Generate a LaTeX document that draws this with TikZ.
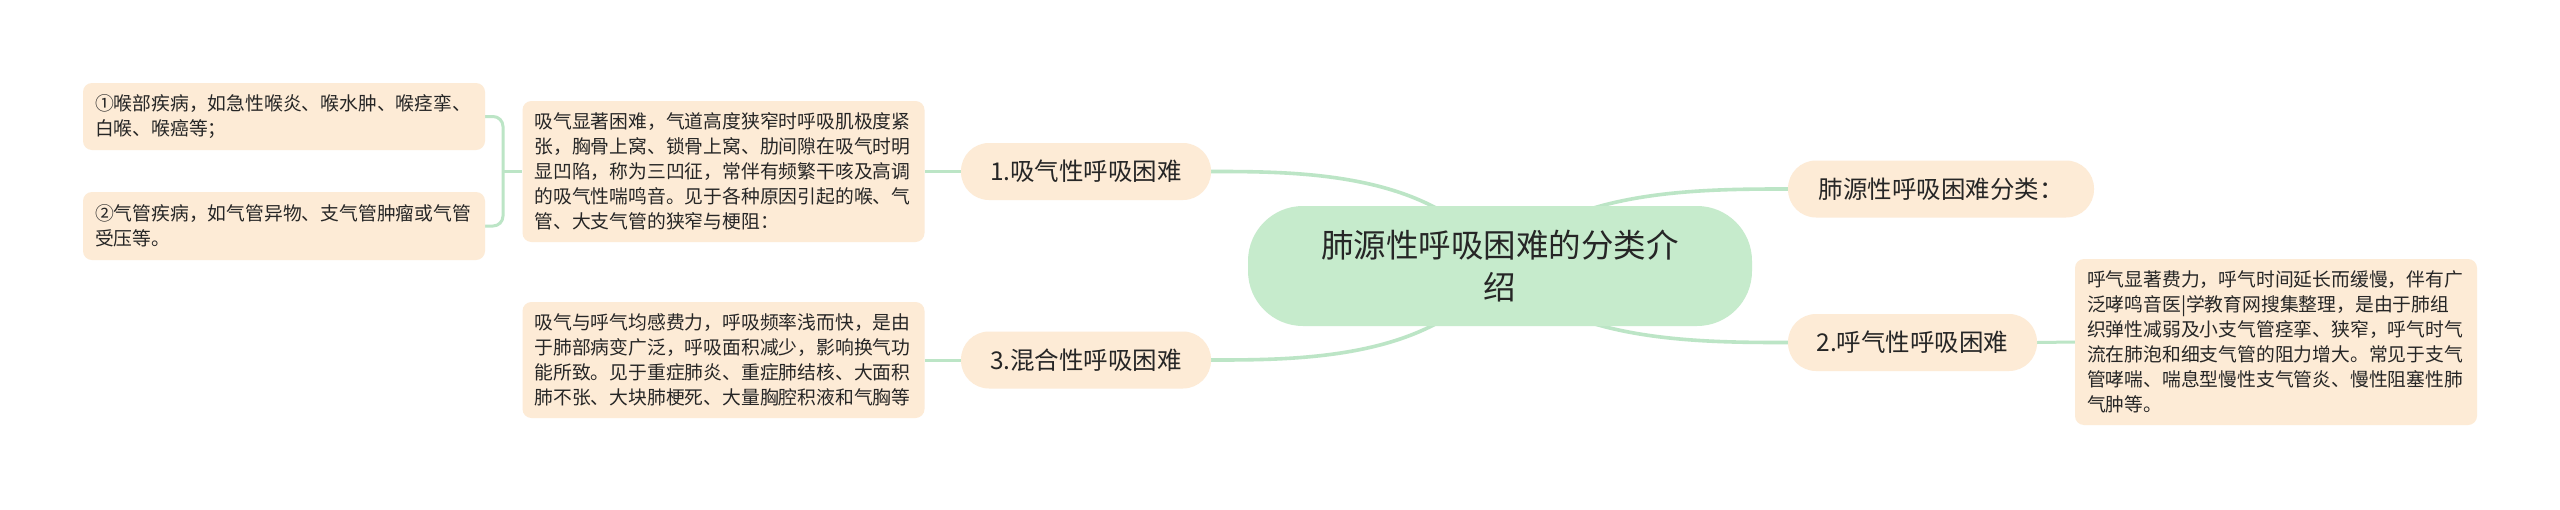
\documentclass[tikz,border=0pt]{standalone}
\usepackage{fontspec}
\setmainfont{Noto Sans CJK SC}
\pgfdeclarelayer{bg}
\pgfsetlayers{bg,main}
\definecolor{peach}{RGB}{253,235,214}
\definecolor{mint}{RGB}{198,235,204}
\definecolor{linegreen}{RGB}{188,229,198}
\definecolor{txt}{RGB}{38,38,38}
\tikzset{
  detail/.style={rectangle, rounded corners=9pt, fill=peach, text=txt,
    font=\fontsize{18.8}{25}\selectfont, align=left, text width=378pt,
    inner xsep=12pt, inner ysep=0pt},
  topic/.style={rectangle, rounded corners=28pt, fill=peach, text=txt,
    font=\fontsize{24.5}{30}\selectfont, minimum height=57pt, inner xsep=0pt, inner ysep=0pt},
  central/.style={rectangle, rounded corners=55pt, fill=mint, text=txt,
    font=\fontsize{32.5}{42}\selectfont, align=center, minimum width=504pt,
    minimum height=120pt, inner sep=0pt},
  link/.style={draw=linegreen, line width=3pt},
  rootlink/.style={draw=linegreen, line width=3.6pt}
}
\begin{document}
\begin{tikzpicture}[x=1pt,y=-1pt]
\begin{pgfonlayer}{bg}
\fill[white] (0,0) rectangle (2560,509);
\end{pgfonlayer}
\useasboundingbox (0,0) rectangle (2560,509);

% central
\node[central] (c) at (1500,266) {肺源性呼吸困难的分类介\\绍};

% topics
\node[topic, minimum width=250pt] (n1) at (1086,171.5) {1.吸气性呼吸困难};
\node[topic, minimum width=250pt] (n3) at (1086,360) {3.混合性呼吸困难};
\node[topic, minimum width=306pt] (n0) at (1941,189) {肺源性呼吸困难分类：};
\node[topic, minimum width=249pt] (n2) at (1912.5,342.5) {2.呼气性呼吸困难};

% details
\node[detail, minimum height=141pt] (d1) at (723.5,171.5) {吸气显著困难，气道高度狭窄时呼吸肌极度紧\\张，胸骨上窝、锁骨上窝、肋间隙在吸气时明\\显凹陷，称为三凹征，常伴有频繁干咳及高调\\的吸气性喘鸣音。见于各种原因引起的喉、气\\管、大支气管的狭窄与梗阻：};
\node[detail, minimum height=116pt] (d3) at (723.5,360) {吸气与呼气均感费力，呼吸频率浅而快，是由\\于肺部病变广泛，呼吸面积减少，影响换气功\\能所致。见于重症肺炎、重症肺结核、大面积\\肺不张、大块肺梗死、大量胸腔积液和气胸等};
\node[detail, minimum height=166pt] (d2) at (2276,342) {呼气显著费力，呼气时间延长而缓慢，伴有广\\泛哮鸣音医|学教育网搜集整理，是由于肺组\\织弹性减弱及小支气管痉挛、狭窄，呼气时气\\流在肺泡和细支气管的阻力增大。常见于支气\\管哮喘、喘息型慢性支气管炎、慢性阻塞性肺\\气肿等。};
\node[detail, minimum height=67pt] (b1) at (284,116.5) {①喉部疾病，如急性喉炎、喉水肿、喉痉挛、\\白喉、喉癌等；};
\node[detail, minimum height=68pt] (b2) at (284,226) {②气管疾病，如气管异物、支气管肿瘤或气管\\受压等。};

\coordinate (j) at (503,171.5);

\begin{pgfonlayer}{bg}
\draw[rootlink] (c.center) .. controls (1440,171.5) and (1300,171.5) .. (n1.east);
\draw[rootlink] (c.center) .. controls (1440,360) and (1300,360) .. (n3.east);
\draw[rootlink] (c.center) .. controls (1560,189) and (1700,189) .. (n0.west);
\draw[rootlink] (c.center) .. controls (1560,342.5) and (1700,342.5) .. (n2.west);
\draw[link] (n1.west) -- (d1.east);
\draw[link] (n3.west) -- (d3.east);
\draw[link] (n2.east) -- (d2.west);
\draw[link] (j) -- (d1.west);
\draw[link, rounded corners=10pt] (b1.east) -| (j) |- (b2.east);
\end{pgfonlayer}
\end{tikzpicture}
\end{document}
